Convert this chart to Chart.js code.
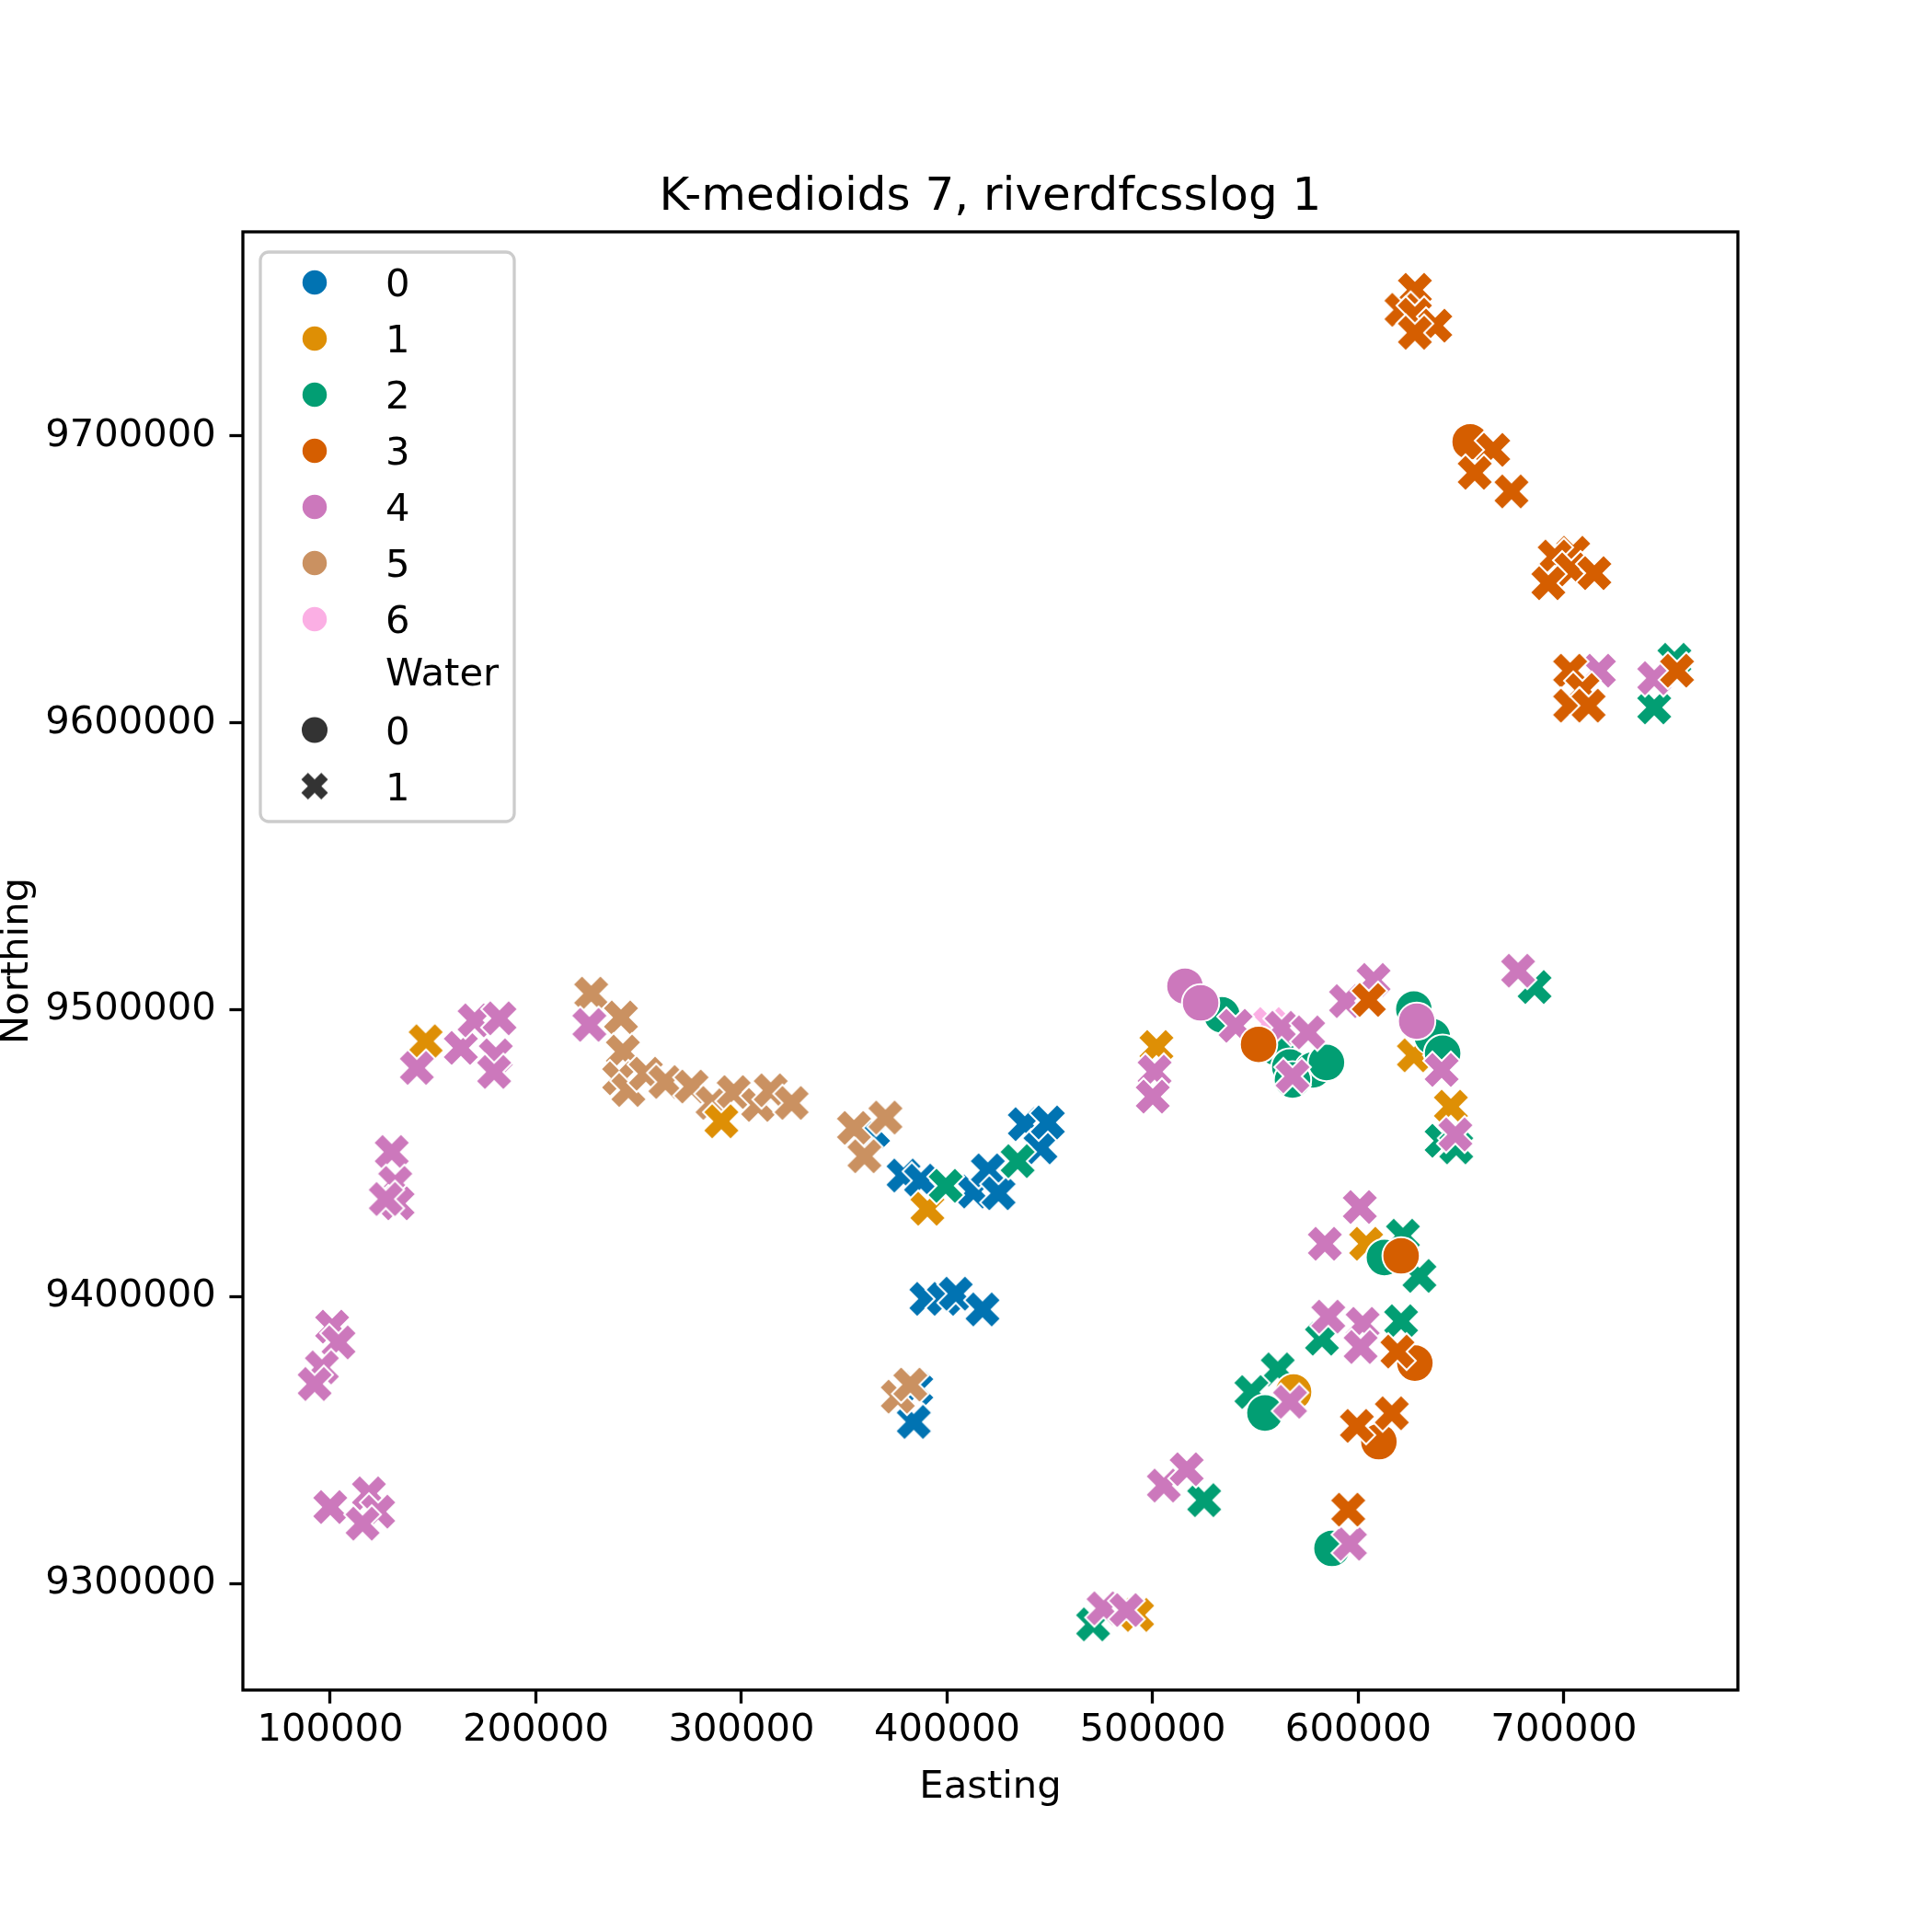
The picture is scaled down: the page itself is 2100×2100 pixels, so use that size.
<!DOCTYPE html>
<html>
<head>
<meta charset="utf-8">
<script src="https://cdn.jsdelivr.net/npm/chart.js@4/dist/chart.umd.min.js"></script>
<style>
  html, body { margin: 0; padding: 0; background: #fff; }
  #wrap { width: 2100px; height: 2100px; }
</style>
</head>
<body>
<div id="wrap"><canvas id="chart" width="2100" height="2100"></canvas></div>
<script>
// cluster labels and colours (seaborn colorblind)
const clusters = ['0', '1', '2', '3', '4', '5', '6'];
const palette = ['#0173b2', '#de8f05', '#029e73', '#d55e00', '#cc78bc', '#ca9161', '#fbafe4'];
const waterLevels = ['0', '1'];

const xTicks = [100000, 200000, 300000, 400000, 500000, 600000, 700000];
const yTicks = [9300000, 9400000, 9500000, 9600000, 9700000];
const xRange = [57500, 784600];
const yRange = [9262800, 9771200];

// [Easting, Northing] per cluster, Water = 1 (x) / Water = 0 (o)
const c0x = [[364000,9457500],[378800,9442200],[387300,9440400],[412800,9436600],[419800,9444000],[425000,9436000],
  [437800,9460100],[445400,9452000],[449000,9460700],[389900,9399200],[398400,9399200],[404200,9401000],
  [417200,9395500],[385000,9368000],[383800,9356300]];
const c1x = [[146400,9489000],[290200,9461100],[390400,9430600],[501800,9487000],[627000,9484100],[645000,9466200],
  [603800,9418400],[492400,9289000]];
const c1o = [[568500,9366700]];
const c2x = [[399300,9438600],[434300,9447200],[640500,9454300],[647600,9452000],[629700,9407200],[621700,9421200],
  [582300,9385300],[620800,9391400],[560800,9374600],[548000,9366700],[525000,9329000],[471000,9285700],
  [685700,9507900],[743900,9605400],[753700,9622000]];
const c2o = [[533600,9498200],[559800,9486900],[566700,9480000],[577900,9479000],[584500,9481600],[568000,9475500],
  [627000,9500200],[636000,9490600],[641000,9484800],[612700,9413600],[554600,9359400],[587200,9312200]];
const c3x = [[627500,9751000],[621000,9744000],[627500,9742300],[637400,9738500],[627500,9736000],[665600,9695200],
  [656600,9687200],[674500,9680700],[704500,9659300],[695500,9658000],[703600,9653500],[714800,9652200],
  [692400,9648700],[703000,9618200],[709000,9611500],[703000,9606000],[712000,9606000],[755000,9618200],
  [605100,9503400],[619000,9380800],[616300,9359300],[599300,9354900],[595100,9325700]];
const c3o = [[654400,9698000],[551500,9487900],[620800,9414200],[627500,9376800],[610000,9349400]];
const c4x = [[142100,9479700],[163500,9486700],[170200,9496300],[182300,9497000],[180500,9484100],[179700,9478300],
  [226000,9494700],[129900,9450400],[131600,9439600],[132700,9432500],[127000,9434000],[100900,9389500],
  [104000,9384000],[95900,9375300],[92400,9369500],[100000,9326600],[118800,9331400],[123300,9325000],
  [115700,9320800],[540300,9494400],[562700,9493700],[575600,9492100],[568000,9476800],[500900,9478400],
  [500000,9469700],[594000,9503000],[607400,9510400],[640500,9479000],[647200,9456500],[600700,9431200],
  [583700,9418400],[585400,9393000],[602100,9390500],[601100,9382400],[566800,9363300],[505400,9334100],
  [516500,9339800],[595900,9313800],[476100,9291300],[487200,9290700],[677700,9513600],[717000,9618200],
  [743900,9615600]];
const c4o = [[515700,9508200],[523300,9502400],[628400,9496000]];
const c5x = [[226900,9505600],[241400,9497300],[242300,9485400],[240500,9476100],[245000,9472000],[253500,9477700],
  [263000,9474800],[275700,9473200],[285900,9467500],[296200,9471300],[308100,9466800],[314200,9471900],
  [324400,9467500],[370000,9462400],[354700,9458800],[359800,9448900],[376000,9365100],[382100,9369300]];
const c6x = [[556800,9495000]];

const titleText = 'K-medioids 7, riverdfcsslog 1';
const xLabel = 'Easting';
const yLabel = 'Northing';
const legendTitle = 'Water';

const FONT = '"DejaVu Sans", sans-serif';

// filled "X" marker (matplotlib 'X' path) with white edge
function xMarker(color, half, edge) {
  const size = 2 * Math.ceil(half + edge + 2);
  const cv = document.createElement('canvas');
  cv.width = cv.height = size;
  const g = cv.getContext('2d');
  const u = half / 2;
  g.translate(size / 2, size / 2);
  const p = [[-1,-2],[0,-1],[1,-2],[2,-1],[1,0],[2,1],[1,2],[0,1],[-1,2],[-2,1],[-1,0],[-2,-1]];
  g.beginPath();
  p.forEach(([a, b], i) => i ? g.lineTo(a * u, b * u) : g.moveTo(a * u, b * u));
  g.closePath();
  g.fillStyle = color;
  g.fill();
  if (edge) { g.strokeStyle = '#fff'; g.lineWidth = edge; g.stroke(); }
  return cv;
}

const toXY = pts => pts.map(([x, y]) => ({ x, y }));
const crossSet = (pts, c) => ({
  data: toXY(pts), pointStyle: xMarker(palette[c], 20, 2), pointRadius: 20, showLine: false
});
const dotSet = (pts, c) => ({
  data: toXY(pts), pointStyle: 'circle', pointRadius: 20.3, backgroundColor: palette[c],
  borderColor: '#fff', borderWidth: 2, showLine: false
});

// first dataset is drawn on top
const datasets = [
  crossSet(c3x, 3), dotSet(c4o, 4), dotSet(c3o, 3), crossSet(c4x, 4), dotSet(c2o, 2), dotSet(c1o, 1),
  crossSet(c2x, 2), crossSet(c1x, 1), crossSet(c5x, 5), crossSet(c0x, 0), crossSet(c6x, 6)
];

const decor = {
  id: 'decor',
  afterDraw(chart) {
    const { ctx, chartArea: a } = chart;
    ctx.save();
    ctx.strokeStyle = '#000';
    ctx.lineWidth = 3.3;
    ctx.strokeRect(a.left, a.top, a.right - a.left, a.bottom - a.top);

    ctx.fillStyle = '#000';
    ctx.textAlign = 'center';
    ctx.textBaseline = 'alphabetic';
    ctx.font = '50px ' + FONT;
    ctx.fillText(titleText, (a.left + a.right) / 2, a.top - 24);
    ctx.font = '41.7px ' + FONT;
    ctx.fillText(xLabel, (a.left + a.right) / 2, a.bottom + 117);
    ctx.save();
    ctx.translate(30, (a.top + a.bottom) / 2);
    ctx.rotate(-Math.PI / 2);
    ctx.fillText(yLabel, 0, 0);
    ctx.restore();

    // legend
    const bx = a.left + 19, by = a.top + 22, bw = 276, bh = 619;
    ctx.beginPath();
    ctx.roundRect(bx, by, bw, bh, 9);
    ctx.fillStyle = 'rgba(255,255,255,0.8)';
    ctx.fill();
    ctx.strokeStyle = '#cccccc';
    ctx.lineWidth = 3.3;
    ctx.stroke();

    const mx = bx + 59, tx = bx + 136;
    ctx.textAlign = 'left';
    ctx.font = '41.7px ' + FONT;
    const rowY = i => by + 33 + 61 * i;
    clusters.forEach((lab, i) => {
      const y = rowY(i);
      ctx.beginPath();
      ctx.arc(mx, y, 14, 0, Math.PI * 2);
      ctx.fillStyle = palette[i];
      ctx.fill();
      ctx.strokeStyle = '#fff';
      ctx.lineWidth = 1.5;
      ctx.stroke();
      ctx.fillStyle = '#000';
      ctx.fillText(lab, tx, y + 15);
    });
    ctx.fillText(legendTitle, tx, rowY(7) - 4 + 15);
    waterLevels.forEach((lab, j) => {
      const y = by + 519.5 + 61 * j;
      if (j === 0) {
        ctx.beginPath();
        ctx.arc(mx, y, 14, 0, Math.PI * 2);
        ctx.fillStyle = '#333333';
        ctx.fill();
      } else {
        const m = xMarker('#333333', 14.5, 0);
        ctx.drawImage(m, mx - m.width / 2, y - m.height / 2);
      }
      ctx.fillStyle = '#000';
      ctx.fillText(lab, tx, y + 15);
    });
    ctx.restore();
  }
};

const tickFont = { family: 'DejaVu Sans', size: 41.7 };

new Chart(document.getElementById('chart'), {
  type: 'scatter',
  data: { datasets },
  options: {
    responsive: false,
    animation: false,
    events: [],
    layout: { padding: { left: 0, right: 211, top: 252, bottom: 113 } },
    plugins: { legend: { display: false }, tooltip: { enabled: false } },
    scales: {
      x: {
        type: 'linear', min: xRange[0], max: xRange[1],
        afterBuildTicks: s => { s.ticks = xTicks.map(v => ({ value: v })); },
        afterFit: s => { s.height = 150; },
        grid: { drawOnChartArea: false, drawTicks: true, tickLength: 14.6, tickWidth: 3.3, tickColor: '#000' },
        border: { display: false },
        ticks: { font: tickFont, color: '#000', padding: 5, maxRotation: 0, autoSkip: false, callback: v => String(v) }
      },
      y: {
        type: 'linear', min: yRange[0], max: yRange[1],
        afterBuildTicks: s => { s.ticks = yTicks.map(v => ({ value: v })); },
        afterFit: s => { s.width = 264; },
        grid: { drawOnChartArea: false, drawTicks: true, tickLength: 14.6, tickWidth: 3.3, tickColor: '#000' },
        border: { display: false },
        ticks: { font: tickFont, color: '#000', padding: 14.6, autoSkip: false, callback: v => String(v) }
      }
    }
  },
  plugins: [decor]
});
</script>
</body>
</html>
